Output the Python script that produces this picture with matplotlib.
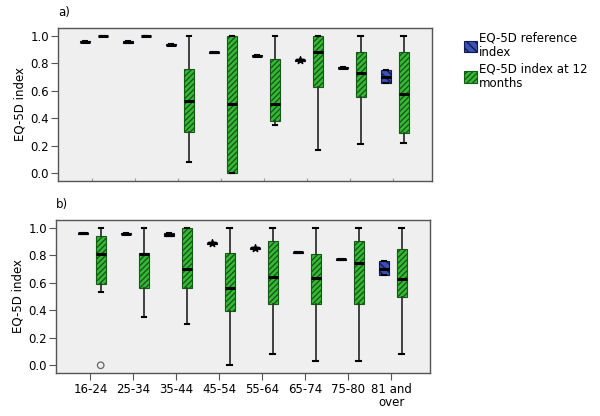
import numpy as np
import matplotlib
matplotlib.use("Agg")
import matplotlib.pyplot as plt
from matplotlib.patches import Patch

plt.rcParams["font.family"] = ["DejaVu Sans"]
plt.rcParams["hatch.linewidth"] = 1.0

cats = ["16-24", "25-34", "35-44", "45-54", "55-64", "65-74", "75-80", "81 and\nover"]

# panel a) reference index (mostly collapsed boxes)
ref_a_q1 = [0.951, 0.949, 0.931, 0.876, 0.849, 0.816, 0.764, 0.658]
ref_a_med = [0.955, 0.953, 0.935, 0.880, 0.855, 0.820, 0.768, 0.700]
ref_a_q3 = [0.959, 0.957, 0.939, 0.884, 0.860, 0.824, 0.772, 0.752]
# panel a) index at 12 months
m12_a_lo = [0.994, 0.994, 0.08, 0.0, 0.35, 0.17, 0.21, 0.22]
m12_a_q1 = [0.994, 0.994, 0.30, 0.0, 0.378, 0.626, 0.557, 0.294]
m12_a_med = [0.997, 0.997, 0.523, 0.50, 0.50, 0.88, 0.727, 0.573]
m12_a_q3 = [1.0, 1.0, 0.754, 1.0, 0.83, 1.0, 0.88, 0.88]
m12_a_hi = [1.0, 1.0, 1.0, 1.0, 1.0, 1.0, 1.0, 1.0]
star_a_idx = [5]
star_a_val = [0.82]

# panel b)
ref_b_q1 = [0.955, 0.950, 0.937, 0.882, 0.846, 0.817, 0.766, 0.656]
ref_b_med = [0.959, 0.954, 0.949, 0.886, 0.850, 0.821, 0.770, 0.700]
ref_b_q3 = [0.963, 0.958, 0.960, 0.890, 0.854, 0.825, 0.774, 0.758]
m12_b_lo = [0.535, 0.349, 0.298, 0.0, 0.08, 0.034, 0.034, 0.08]
m12_b_q1 = [0.588, 0.559, 0.559, 0.397, 0.443, 0.443, 0.443, 0.499]
m12_b_med = [0.806, 0.81, 0.70, 0.559, 0.639, 0.637, 0.746, 0.63]
m12_b_q3 = [0.942, 0.814, 1.0, 0.814, 0.903, 0.809, 0.903, 0.845]
m12_b_hi = [1.0, 1.0, 1.0, 1.0, 1.0, 1.0, 1.0, 1.0]
star_b_idx = [3, 4]
star_b_val = [0.886, 0.850]
outlier_b_idx = [0]
outlier_b_val = [0.0]

green = "#38b838"
green_hatch = "#135c13"
blue = "#3a52b4"
blue_hatch = "#101a50"
edge = "#555555"
bg = "#efefef"

x = np.arange(len(cats))
ref_off, m12_off, bw = -0.17, 0.24, 0.23
fs = 8.5


def stats(lo, q1, med, q3, hi):
    return [dict(whislo=a, q1=b, med=c, q3=d, whishi=e, fliers=[])
            for a, b, c, d, e in zip(lo, q1, med, q3, hi)]


def draw_boxes(ax, st, pos, face, hcol, hatch):
    bp = ax.bxp(st, positions=pos, widths=bw, patch_artist=True,
                showfliers=False, manage_ticks=False,
                medianprops=dict(color="black", linewidth=2.2),
                whiskerprops=dict(color="#333333", linewidth=1.3),
                capprops=dict(color="black", linewidth=1.5),
                boxprops=dict(linewidth=0.8))
    for b in bp["boxes"]:
        b.set_facecolor(face)
        b.set_edgecolor(hcol)
        b.set_hatch(hatch)
        b.set_linewidth(0.8)
    for c in bp["caps"]:
        c.set_xdata(np.mean(c.get_xdata()) + np.array([-0.05, 0.05]))
    return bp


def panel(ax, rq1, rmed, rq3, lo, q1, med, q3, hi, label):
    ax.set_facecolor(bg)
    ref_st = stats(rq1, rq1, rmed, rq3, rq3)
    draw_boxes(ax, ref_st, x + ref_off, blue, blue_hatch, "\\\\\\\\")
    draw_boxes(ax, stats(lo, q1, med, q3, hi), x + m12_off, green, green_hatch, "//////")
    ax.set_xlim(-0.8, 7.9)
    ax.set_ylim(-0.056, 1.055)
    ax.set_yticks(np.arange(0, 1.01, 0.2))
    ax.set_yticklabels([f"{v:.1f}" for v in np.arange(0, 1.01, 0.2)])
    ax.set_xticks(x)
    ax.set_ylabel("EQ-5D index", fontsize=fs, labelpad=3)
    ax.tick_params(axis="y", labelsize=fs, length=5, color="#555555", pad=1.5)
    ax.tick_params(axis="x", labelsize=fs, length=5, color="#555555", pad=2)
    for s in ax.spines.values():
        s.set_color(edge)
        s.set_linewidth(1.0)
    ax.text(0.0, 1.06, label, transform=ax.transAxes, fontsize=fs,
            ha="left", va="bottom")


fig = plt.figure(figsize=(6, 4.16), dpi=100)
ax1 = fig.add_axes([0.0967, 0.5649, 0.6233, 0.3678])
ax2 = fig.add_axes([0.0933, 0.1034, 0.6233, 0.3678])

panel(ax1, ref_a_q1, ref_a_med, ref_a_q3,
      m12_a_lo, m12_a_q1, m12_a_med, m12_a_q3, m12_a_hi, "a)")
ax1.set_xticklabels([])
ax1.tick_params(axis="x", length=2, direction="in", color="#999999")
ax1.scatter(np.array(star_a_idx) + ref_off, star_a_val, marker="*", s=30,
            color="black", zorder=5)

panel(ax2, ref_b_q1, ref_b_med, ref_b_q3,
      m12_b_lo, m12_b_q1, m12_b_med, m12_b_q3, m12_b_hi, "b)")
ax2.set_xticklabels(cats, linespacing=1.0)
ax2.scatter(np.array(star_b_idx) + ref_off, star_b_val, marker="*", s=30,
            color="black", zorder=5)
ax2.scatter(np.array(outlier_b_idx) + m12_off, outlier_b_val, marker="o", s=22,
            facecolor="none", edgecolor="#666666", linewidth=0.9, zorder=5)

handles = [Patch(facecolor=blue, edgecolor=blue_hatch, hatch="\\\\\\\\", linewidth=0.8),
           Patch(facecolor=green, edgecolor=green_hatch, hatch="//////", linewidth=0.8)]
fig.legend(handles, ["EQ-5D reference\nindex", "EQ-5D index at 12\nmonths"],
           loc="upper left", bbox_to_anchor=(0.773, 0.925), frameon=False,
           fontsize=fs, handlelength=1.1, handleheight=1.1, handletextpad=0.2,
           labelspacing=0.25, borderaxespad=0, borderpad=0)

fig.savefig("out.png", dpi=100)
